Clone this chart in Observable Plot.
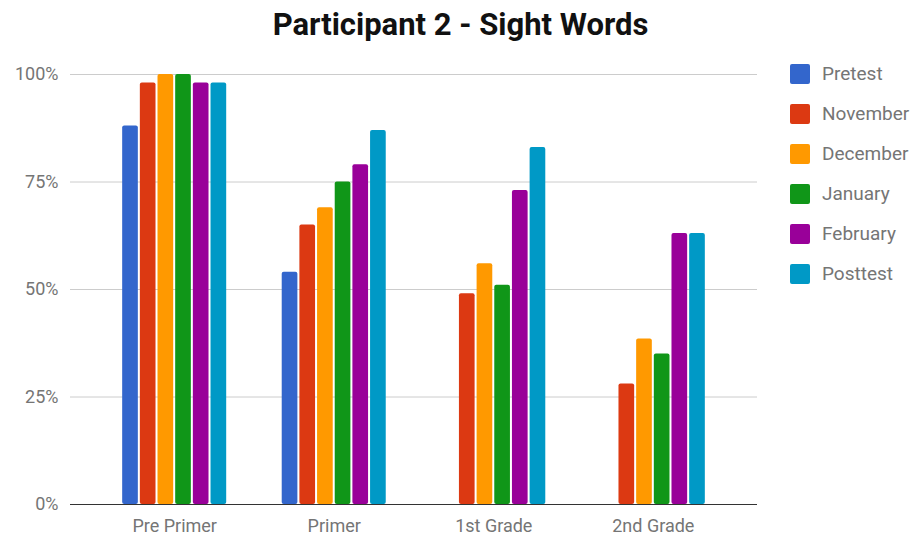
<!DOCTYPE html>
<html>
<head>
<meta charset="utf-8">
<script src="https://cdn.jsdelivr.net/npm/d3@7"></script>
<script src="https://cdn.jsdelivr.net/npm/@observablehq/plot@0.6"></script>
<style>
  html, body { margin: 0; padding: 0; background: #fff; }
  #wrap { position: relative; width: 912px; height: 537px; overflow: hidden; font-family: Roboto, sans-serif; }
  #title { position: absolute; left: 9px; width: 903px; top: 9px; text-align: center; font-size: 31px; line-height: 31px; font-weight: 700; color: #111; }
  #legend { position: absolute; left: 790px; top: 64px; }
  .row { display: flex; align-items: center; height: 20px; margin-bottom: 20px; }
  .sw { width: 20px; height: 20px; border-radius: 2px; margin-right: 12px; }
  .lab { font-size: 19px; color: #757575; line-height: 20px; }
</style>
</head>
<body>
<div id="wrap">
  <div id="title">Participant 2 - Sight Words</div>
  <div id="legend"></div>
</div>
<script>
// ---- data ----
const categories = ["Pre Primer", "Primer", "1st Grade", "2nd Grade"];
const seriesNames = ["Pretest", "November", "December", "January", "February", "Posttest"];
const colors = ["#3366cc", "#dc3912", "#ff9900", "#109618", "#990099", "#0099c6"];
const pretest  = [0.88, 0.54, null, null];
const november = [0.98, 0.65, 0.49, 0.28];
const december = [1.00, 0.69, 0.56, 0.385];
const january  = [1.00, 0.75, 0.51, 0.35];
const february = [0.98, 0.79, 0.73, 0.63];
const posttest = [0.98, 0.87, 0.83, 0.63];
const yTicks = [0, 0.25, 0.5, 0.75, 1];

const seriesValues = [pretest, november, december, january, february, posttest];
const data = [];
categories.forEach((c, i) => {
  seriesNames.forEach((s, j) => {
    const v = seriesValues[j][i];
    if (v != null) data.push({category: c, series: s, value: v});
  });
});

const W = 912, H = 537;
const common = {
  width: W, height: H,
  marginLeft: 70, marginRight: 155, marginTop: 74, marginBottom: 33,
  style: {background: "transparent", fontFamily: "Roboto, sans-serif", fontSize: "18px", color: "#757575", overflow: "visible"}
};

// Layer A: grid + y axis
const layerA = Plot.plot({
  ...common,
  y: {domain: [0, 1]},
  marks: [
    Plot.ruleY(yTicks.slice(1), {stroke: "#cccccc", strokeWidth: 1}),
    Plot.axisY({ticks: yTicks, tickFormat: d3.format(".0%"), tickSize: 0, tickPadding: 12, label: null, fontSize: 18})
  ]
});

// Layer B: grouped bars (faceted)
const layerB = Plot.plot({
  ...common,
  y: {domain: [0, 1], axis: null},
  fx: {domain: categories, paddingInner: 0.348, paddingOuter: 0.327, round: false, label: null},
  x: {domain: seriesNames, paddingInner: 0.113, paddingOuter: 0, round: false, axis: null},
  color: {domain: seriesNames, range: colors},
  marks: [
    Plot.barY(data, {fx: "category", x: "series", y: "value", fill: "series", rx: 2}),
    Plot.axisFx({anchor: "bottom", tickSize: 0, tickPadding: 15, label: null, fontSize: 18})
  ]
});

// Layer C: baseline
const layerC = Plot.plot({
  ...common,
  y: {domain: [0, 1], axis: null},
  marks: [
    Plot.ruleY([0], {stroke: "#333333", strokeWidth: 1.2})
  ]
});

const wrap = document.getElementById("wrap");
[layerA, layerB, layerC].forEach(el => {
  el.style.position = "absolute";
  el.style.left = "0px";
  el.style.top = "0px";
  wrap.insertBefore(el, document.getElementById("title"));
});

// Legend
const legend = document.getElementById("legend");
seriesNames.forEach((s, i) => {
  const row = document.createElement("div");
  row.className = "row";
  const sw = document.createElement("div");
  sw.className = "sw";
  sw.style.background = colors[i];
  const lab = document.createElement("div");
  lab.className = "lab";
  lab.textContent = s;
  row.appendChild(sw);
  row.appendChild(lab);
  legend.appendChild(row);
});
</script>
</body>
</html>
